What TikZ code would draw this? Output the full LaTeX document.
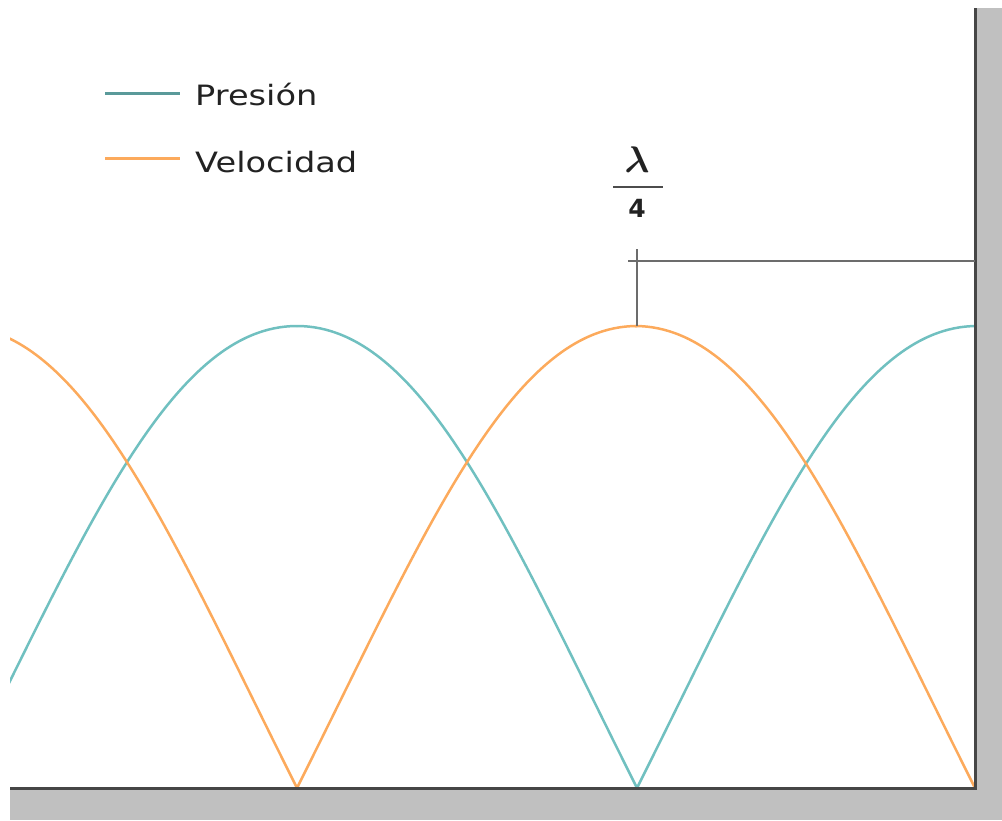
\documentclass[tikz,border=0pt]{standalone}
\usepackage{amsmath}
\usepackage{fontspec}
\setmainfont{DejaVu Sans}
\definecolor{teal1}{RGB}{112,192,192}
\definecolor{orange1}{RGB}{252,170,92}
\definecolor{frame1}{RGB}{70,70,70}
\definecolor{wall1}{RGB}{192,192,192}
\definecolor{text1}{RGB}{34,34,34}

\tikzset{
  presion/.style={teal1,line width=2.5pt},
  velocidad/.style={orange1,line width=2.5pt},
  label/.style={text1,inner sep=0pt,anchor=base west,xscale=1.2,font=\fontsize{28}{30}\selectfont},
  marker/.style={gray!85!black,line width=2pt}
}

\begin{document}
\begin{tikzpicture}[x=1pt,y=-1pt]
  \useasboundingbox (0,0) rectangle (1002,820);

  % waves
  \begin{scope}
    \clip (10,0) rectangle (975,789);
    \foreach \z/\c in {-43/presion, 637/presion, 297/velocidad, 975/velocidad}
      \draw[\c] (\z-340,326) .. controls (\z-213,326) and (\z-127,535) .. (\z,788)
                .. controls (\z+127,535) and (\z+213,326) .. (\z+340,326);
  \end{scope}

  % wall and floor
  \fill[wall1] (976,8) rectangle (1002,820);
  \fill[wall1] (10,789) rectangle (1002,820);
  \coordinate (top) at (975.5,8);
  \coordinate (corner) at (975.5,788.5);
  \coordinate (left) at (10,788.5);
  \draw[frame1,line width=3pt] (top) -- (corner) -- (left);

  % quarter wavelength
  \coordinate (peak) at (637,326);
  \coordinate (tick) at (637,249);
  \coordinate (wall-left) at (628,261);
  \coordinate (wall-right) at (975,261);
  \draw[marker] (tick) -- (peak);
  \draw[marker] (wall-left) -- (wall-right);
  \node[text1,inner sep=0pt,scale=3.7] (lambda) at (637,160) {$\boldsymbol{\lambda}$};
  \draw[gray!60!black,line width=2pt] (613,186.5) -- (663,186.5);
  \node[text1,inner sep=0pt,font=\bfseries\fontsize{25}{27}\selectfont] (four) at (637,208) {4};

  % legend
  \coordinate (leg-p) at (105,93);
  \coordinate (leg-v) at (105,158);
  \draw[presion,line width=3pt,teal1!80!black] (leg-p) -- +(75,0);
  \draw[velocidad,line width=3pt] (leg-v) -- +(75,0);
  \node[label] (presion-label) at (195,105.5) {Presión};
  \node[label] (velocidad-label) at (195,172) {Velocidad};
\end{tikzpicture}
\end{document}
